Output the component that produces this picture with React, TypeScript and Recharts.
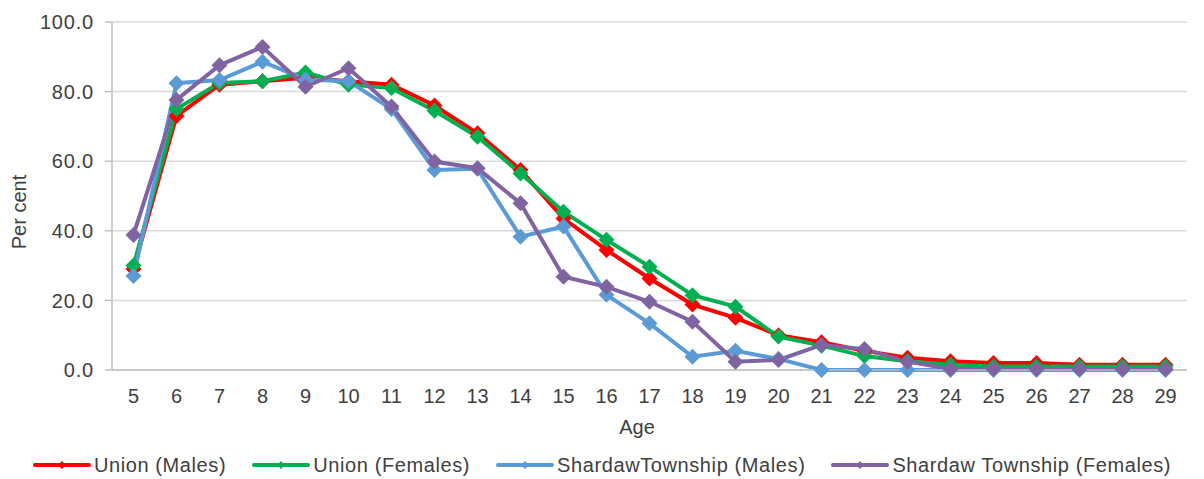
import React from 'react';
import { LineChart, Line, XAxis, YAxis, CartesianGrid } from 'recharts';

const ages = ['5','6','7','8','9','10','11','12','13','14','15','16','17','18','19','20','21','22','23','24','25','26','27','28','29'];
const unionMales = [29, 73, 82, 83, 84, 83, 82, 76, 68, 57.5, 43.5, 34.5, 26.3, 18.8, 15, 10, 8, 5.5, 3.5, 2.5, 2, 2, 1.5, 1.5, 1.5];
const unionFemales = [30, 75, 82.5, 83, 85.5, 82, 81, 74.5, 67, 56.5, 45.5, 37.4, 29.7, 21.5, 18.2, 9.6, 7, 4, 2.5, 1.5, 1, 1, 1, 1, 1];
const shardawMales = [27, 82.4, 83.3, 88.6, 83.5, 83, 75, 57.5, 57.8, 38.3, 41.2, 21.6, 13.4, 3.8, 5.5, 3.2, 0, 0, 0, 0, 0, 0, 0, 0, 0];
const shardawFemales = [38.8, 77.6, 87.6, 92.8, 81.4, 86.7, 75.7, 59.9, 58, 47.9, 26.8, 23.9, 19.6, 13.9, 2.4, 2.9, 7.2, 6, 2.4, 0.3, 0.3, 0.3, 0.3, 0.3, 0.3];
const yTicks = [0, 20, 40, 60, 80, 100];

const seriesNames = ['Union (Males)', 'Union (Females)', 'ShardawTownship (Males)', 'Shardaw Township (Females)'];
const seriesKeys = ['um', 'uf', 'sm', 'sf'];
const seriesColors = ['#FF0000', '#00B050', '#5B9BD5', '#8064A2'];

const data = ages.map((a, i) => ({
  age: a,
  um: unionMales[i],
  uf: unionFemales[i],
  sm: shardawMales[i],
  sf: shardawFemales[i],
}));

const FONT = '"Liberation Sans", Arial, sans-serif';
const TEXT = '#404040';
const FS = 20;

const makeDot = (color: string, r: number) => (props: any) => {
  const { cx, cy, index } = props;
  if (cx == null || cy == null) return <g key={index} />;
  return (
    <polygon
      key={index}
      points={`${cx},${cy - r} ${cx + r},${cy} ${cx},${cy + r} ${cx - r},${cy}`}
      fill={color}
    />
  );
};

export default function App() {
  return (
    <div style={{ position: 'absolute', left: 0, top: 0, width: 1204, height: 479, background: '#fff' }}>
      <LineChart width={1204} height={479} data={data} margin={{ top: 22, right: 17, bottom: 0, left: 0 }}>
        <CartesianGrid vertical={false} stroke="#D9D9D9" strokeWidth={1.5} />
        <XAxis
          dataKey="age"
          height={109}
          padding={{ left: 21.5, right: 21.5 }}
          tickLine={false}
          tickSize={0}
          tickMargin={19}
          axisLine={{ stroke: '#BFBFBF', strokeWidth: 1.5 }}
          tick={{ fill: TEXT, fontSize: FS, fontFamily: FONT }}
          interval={0}
          label={{ content: () => <text x={637} y={427} textAnchor="middle" dominantBaseline="central" fill={TEXT} fontSize={FS} fontFamily={FONT}>Age</text> }}
        />
        <YAxis
          width={112}
          domain={[0, 100]}
          ticks={yTicks}
          tickFormatter={(v: number) => v.toFixed(1)}
          tickSize={7}
          tickMargin={11}
          tickLine={{ stroke: '#BFBFBF', strokeWidth: 1.5 }}
          axisLine={{ stroke: '#BFBFBF', strokeWidth: 1.5 }}
          tick={{ fill: TEXT, fontSize: FS, fontFamily: FONT, letterSpacing: 0.8 }}
          label={{ content: () => <text x={19} y={212} transform="rotate(-90, 19, 212)" textAnchor="middle" dominantBaseline="central" fill={TEXT} fontSize={FS} fontFamily={FONT}>Per cent</text> }}
        />
        <YAxis yAxisId="r" orientation="right" width={0} domain={[0, 100]} tick={false} tickLine={false} axisLine={{ stroke: '#D9D9D9', strokeWidth: 1.5 }} />
        {seriesKeys.map((k, i) => (
          <Line
            key={k}
            type="linear"
            dataKey={k}
            name={seriesNames[i]}
            stroke={seriesColors[i]}
            strokeWidth={4}
            dot={makeDot(seriesColors[i], 8)}
            activeDot={false}
            isAnimationActive={false}
          />
        ))}
      </LineChart>
      <div style={{ position: 'absolute', left: 0, top: 453, width: 1204, display: 'flex', justifyContent: 'center', alignItems: 'center', fontFamily: FONT, fontSize: FS, color: TEXT, gap: 26, letterSpacing: 0.6 }}>
        {seriesNames.map((n, i) => (
          <div key={n} style={{ display: 'flex', alignItems: 'center' }}>
            <svg width={58} height={10} style={{ marginRight: 3 }}>
              <line x1={2} y1={5} x2={56} y2={5} stroke={seriesColors[i]} strokeWidth={4} strokeLinecap="round" />
              <polygon points="29,1 33,5 29,9 25,5" fill={seriesColors[i]} />
            </svg>
            <span style={{ whiteSpace: 'pre', lineHeight: '24px' }}>{n}</span>
          </div>
        ))}
      </div>
    </div>
  );
}
